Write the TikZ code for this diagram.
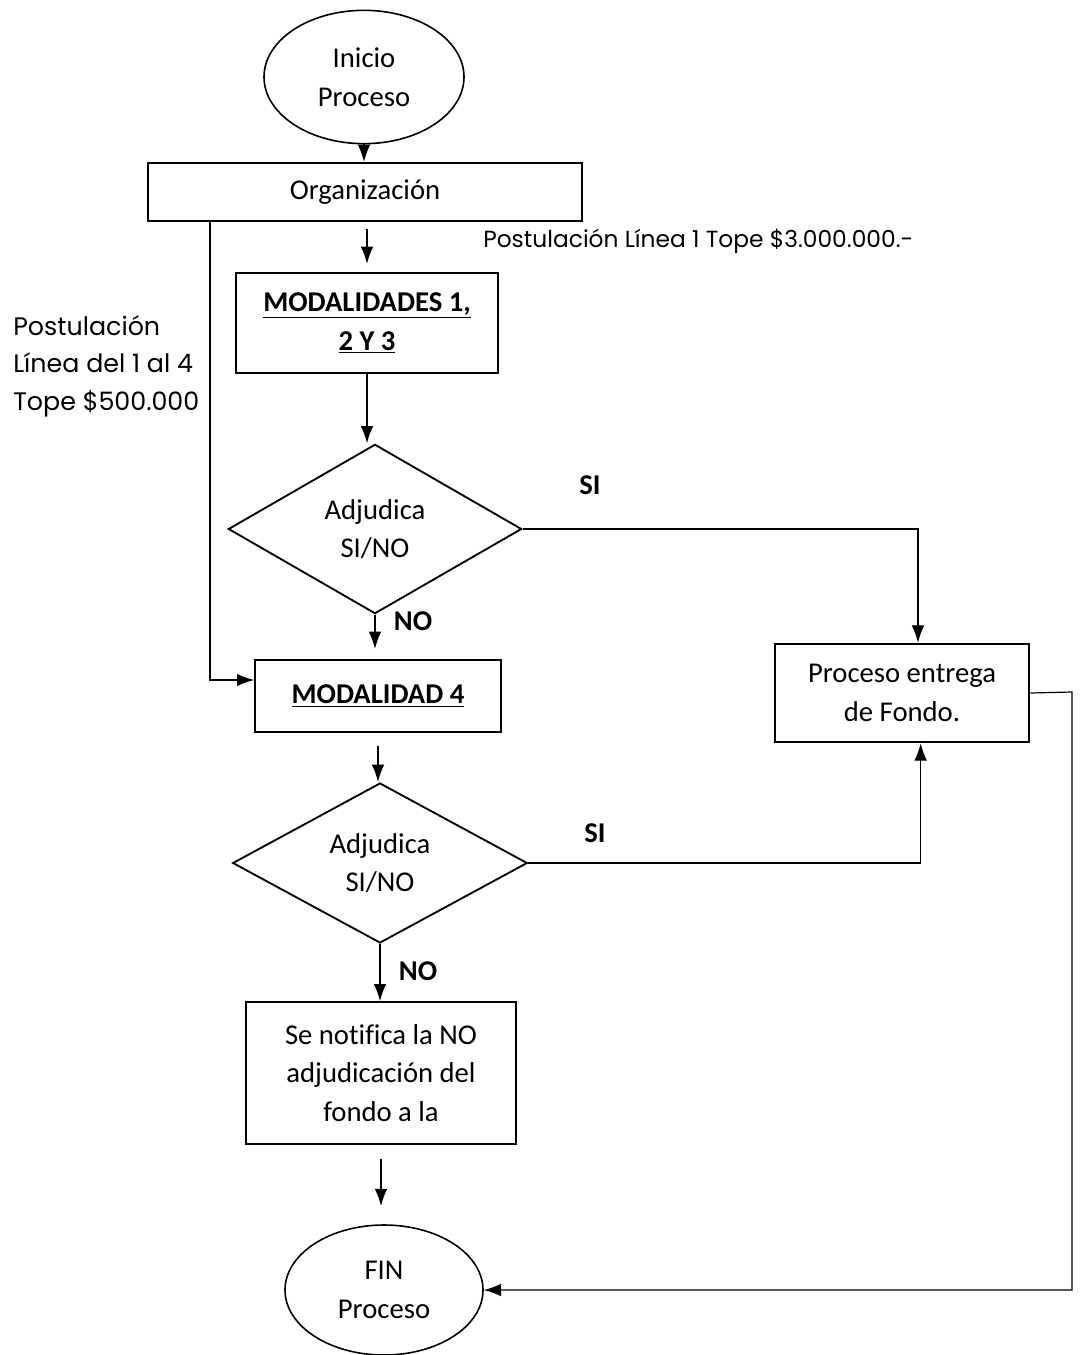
\documentclass[tikz,border=0pt]{standalone}
\usepackage{fontspec}
\setmainfont{Carlito}[Ligatures=NoCommon]
\newfontfamily\gothic{Poppins}
\usetikzlibrary{shapes.geometric,arrows.meta}

\begin{document}
\begin{tikzpicture}[x=0.75pt,y=-0.75pt,
    font=\fontsize{21.5}{29}\selectfont,
    caja/.style={draw, line width=1.5pt, align=center, inner sep=0pt},
    rombo/.style={draw, diamond, aspect=1.7, line width=1.4pt, align=center, inner sep=0pt},
    elipse/.style={draw, ellipse, line width=1.2pt, align=center, inner sep=0pt},
    flecha/.style={-{Latex[length=13pt,width=9.5pt]}, line width=1.3pt},
    fina/.style={-{Latex[length=13pt,width=9.5pt]}, line width=0.9pt},
    nota/.style={font=\gothic\fontsize{19}{28}\selectfont, align=left, inner sep=0pt, anchor=west},
    rotulo/.style={font=\bfseries\fontsize{21.5}{29}\selectfont, inner sep=0pt}]

    \useasboundingbox (0,0) rectangle (1082,1355);

    \node[elipse, minimum width=150pt, minimum height=100pt] (inicio) at (364,77) {Inicio\\Proceso};
    \node[caja, minimum width=326pt, minimum height=43.5pt] (org) at (365,192) {Organización};
    \node[caja, minimum width=196pt, minimum height=75pt] (mod123) at (367,323)
        {\textbf{\underline{MODALIDADES 1,}}\\\textbf{\underline{2 Y 3}}};
    \node[rombo, minimum width=220pt, minimum height=127pt] (dec1) at (375,529) {Adjudica\\SI/NO};
    \node[caja, minimum width=184pt, minimum height=54pt] (mod4) at (378,696) {\textbf{\underline{MODALIDAD 4}}};
    \node[caja, minimum width=191pt, minimum height=74pt] (entrega) at (902,693) {Proceso entrega\\de Fondo.};
    \node[rombo, minimum width=221pt, minimum height=120pt] (dec2) at (380,863) {Adjudica\\SI/NO};
    \node[caja, minimum width=202.5pt, minimum height=106pt] (notif) at (381,1073)
        {Se notifica la NO\\adjudicación del\\fondo a la};
    \node[elipse, minimum width=148.5pt, minimum height=97.5pt] (fin) at (384,1290) {FIN\\Proceso};

    \node[nota, font=\gothic\fontsize{17.5}{28}\selectfont] (linea1) at (483,241) {Postulación Línea 1 Tope \$3.000.000.-};
    \node[nota] (linea4) at (13,366) {Postulación\\Línea del 1 al 4\\Tope \$500.000};

    \node[rotulo] (si1) at (590,485) {SI};
    \node[rotulo] (no1) at (413,621) {NO};
    \node[rotulo] (si2) at (595,833) {SI};
    \node[rotulo] (no2) at (418,971) {NO};

    \coordinate (bajada) at (210,0);
    \coordinate (retorno) at (1072,692);

    \draw[flecha] (inicio.south) -- (inicio.south |- org.north);
    \draw[flecha, shorten <=5pt, shorten >=6pt] (org.south -| mod123.north) -- (mod123.north);
    \draw[flecha] (mod123.south) -- (mod123.south |- dec1.north);
    \draw[flecha, shorten >=7.5pt] (dec1.south) -- (dec1.south |- mod4.north);
    \draw[flecha] (bajada |- org.south) |- ([yshift=12pt]mod4.west);
    \draw[fina] (dec1.east) -| ([xshift=12pt]entrega.north);
    \draw[flecha, shorten <=10pt] (mod4.south) -- (mod4.south |- dec2.north);
    \draw[fina] (dec2.east) -| ([xshift=14pt]entrega.south);
    \draw[flecha] (dec2.south) -- (dec2.south |- notif.north);
    \draw[flecha, shorten <=10.5pt, shorten >=13.5pt] (notif.south) -- (notif.south |- fin.north);
    \draw[fina] (entrega.east) -- (retorno) |- (fin.east);
\end{tikzpicture}
\end{document}
